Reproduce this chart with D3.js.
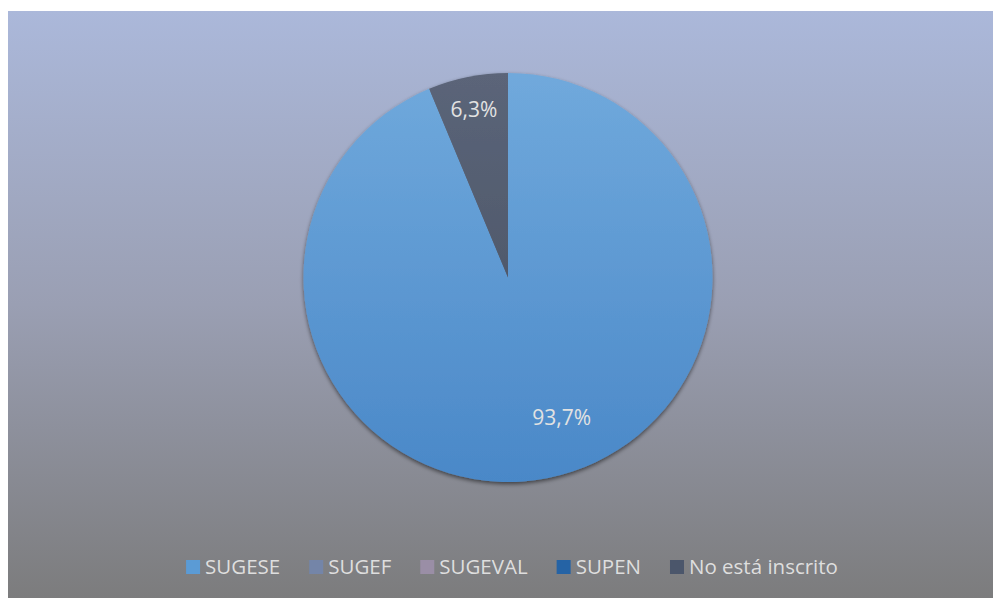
<!DOCTYPE html>
<html>
<head>
<meta charset="utf-8">
<script src="https://cdn.jsdelivr.net/npm/d3@7"></script>
<style>
  html, body { margin: 0; padding: 0; background: #ffffff; }
  svg { display: block; }
  text { font-family: "Open Sans", "Noto Sans", "Liberation Sans", sans-serif; }
</style>
</head>
<body>
<svg id="chart" width="993" height="598"></svg>
<script>
// Share of entities by supervisory registration
const categories = ["SUGESE", "SUGEF", "SUGEVAL", "SUPEN", "No está inscrito"];
const shares = [93.7, 0, 0, 0, 6.3];
const colors = ["#5b9bd5", "#7485a8", "#9a8ea6", "#2563a5", "#4b566b"];
// Lighter / darker tones for each slice's vertical gradient
const colorsLight = ["#70a9dc", "#8696b8", "#a89db2", "#3173b5", "#5b6579"];
const colorsDark = ["#4a88c8", "#63739a", "#877b94", "#1d5491", "#444d5e"];

const svg = d3.select("#chart");
const frame = { x: 8, y: 11, w: 985, h: 587 };

const defs = svg.append("defs");
const bg = defs.append("linearGradient").attr("id", "bg")
  .attr("x1", 0).attr("y1", 0).attr("x2", 0).attr("y2", 1);
bg.append("stop").attr("offset", "0%").attr("stop-color", "#abb8da");
bg.append("stop").attr("offset", "50%").attr("stop-color", "#9a9fb3");
bg.append("stop").attr("offset", "100%").attr("stop-color", "#7c7c7d");

svg.append("rect")
  .attr("x", frame.x).attr("y", frame.y)
  .attr("width", frame.w).attr("height", frame.h)
  .attr("fill", "url(#bg)");

const cx = 508, cy = 277.5, r = 204.5;

// Slice gradients in the pie's local coordinates (centre at 0,0)
categories.forEach((c, i) => {
  const g = defs.append("linearGradient").attr("id", "sl" + i)
    .attr("gradientUnits", "userSpaceOnUse")
    .attr("x1", 0).attr("y1", -r).attr("x2", 0).attr("y2", r);
  g.append("stop").attr("offset", "0%").attr("stop-color", colorsLight[i]);
  g.append("stop").attr("offset", "100%").attr("stop-color", colorsDark[i]);
});

const shadow = defs.append("filter").attr("id", "shadow")
  .attr("x", "-10%").attr("y", "-10%").attr("width", "120%").attr("height", "120%");
shadow.append("feGaussianBlur").attr("in", "SourceAlpha").attr("stdDeviation", 2).attr("result", "b");
shadow.append("feOffset").attr("in", "b").attr("dx", 0).attr("dy", 1.5).attr("result", "o");
shadow.append("feComponentTransfer").attr("in", "o").attr("result", "s")
  .append("feFuncA").attr("type", "linear").attr("slope", 0.55);
const merge = shadow.append("feMerge");
merge.append("feMergeNode").attr("in", "s");
merge.append("feMergeNode").attr("in", "SourceGraphic");

const pie = d3.pie().sort(null).value(d => d);
const arcs = pie(shares).filter(a => a.data > 0);
const arc = d3.arc().innerRadius(0).outerRadius(r);

const pg = svg.append("g").attr("transform", `translate(${cx},${cy})`);
pg.append("g").attr("filter", "url(#shadow)")
  .selectAll("path")
  .data(arcs)
  .join("path")
  .attr("d", arc)
  .attr("fill", d => `url(#sl${d.index})`);

// Data labels: small slices near the rim, large slice further in and nudged right
const fmt = v => d3.format(".1f")(v).replace(".", ",") + "%";
const rimArc = d3.arc().innerRadius(r * 0.845).outerRadius(r * 0.845);
const innerArc = d3.arc().innerRadius(r * 0.74).outerRadius(r * 0.74);
pg.append("g")
  .selectAll("text")
  .data(arcs)
  .join("text")
  .attr("transform", d => {
    const big = d.data > 50;
    const [x, y] = (big ? innerArc : rimArc).centroid(d);
    return `translate(${x + (big ? 24 : 0)},${y + (big ? -8 : 1.5)})`;
  })
  .attr("text-anchor", "middle")
  .attr("dy", "0.35em")
  .attr("fill", "#e2e2e2")
  .attr("font-size", 21)
  .text(d => fmt(d.data));

// Legend
const legend = svg.append("g").attr("transform", "translate(0,567)");
const items = legend.selectAll("g")
  .data(categories)
  .join("g");
items.append("rect")
  .attr("x", 0).attr("y", -7)
  .attr("width", 14).attr("height", 14)
  .attr("fill", (d, i) => colors[i]);
items.append("text")
  .attr("x", 19).attr("dy", "0.35em")
  .attr("fill", "#dedede")
  .attr("font-size", 20.5)
  .text(d => d);

const gap = 29;
const widths = [];
items.each(function() { widths.push(19 + this.querySelector("text").getComputedTextLength()); });
const total = d3.sum(widths) + gap * (widths.length - 1);
let x0 = 512 - total / 2;
items.attr("transform", (d, i) => {
  const t = `translate(${x0},0)`;
  x0 += widths[i] + gap;
  return t;
});
</script>
</body>
</html>
